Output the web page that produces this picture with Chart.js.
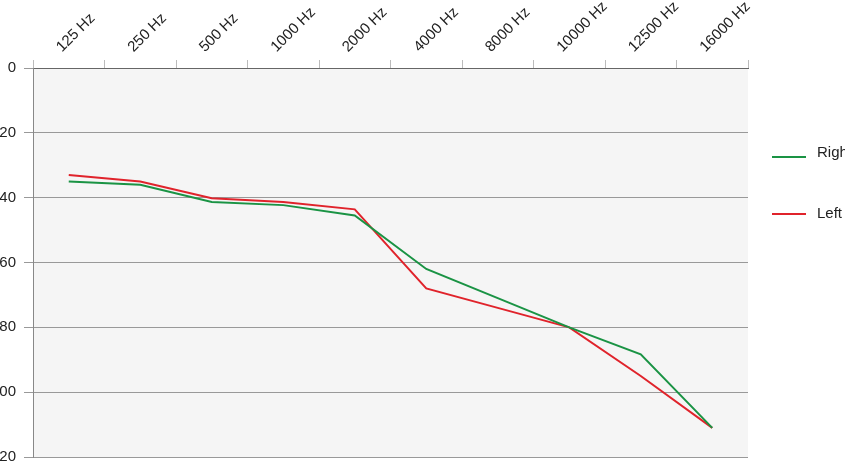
<!DOCTYPE html>
<html>
<head>
<meta charset="utf-8">
<script src="https://cdn.jsdelivr.net/npm/chart.js@4.4.0/dist/chart.umd.min.js"></script>
<style>
  html, body { margin: 0; padding: 0; background: #fff; overflow: hidden; }
  #wrap { position: relative; width: 845px; height: 462px; }
</style>
</head>
<body>
<div id="wrap"><canvas id="chart"></canvas></div>
<script>
const frequencies = ['125 Hz', '250 Hz', '500 Hz', '1000 Hz', '2000 Hz', '4000 Hz', '8000 Hz', '10000 Hz', '12500 Hz', '16000 Hz'];
const rightEar = [35, 36, 41.3, 42.3, 45.5, 62, 71, 80, 88.3, 111];
const leftEar = [33, 35, 40.2, 41.3, 43.6, 68, 74, 80, 95, 111];
const yTicks = [0, 20, 40, 60, 80, 100, 120];

const GREEN = '#1a9344';
const RED = '#e0232b';
const FONT = '"Liberation Sans", Arial, sans-serif';

// grey plot background + right-hand legend (clipped at canvas edge like the original)
const plotBits = {
  id: 'plotBits',
  beforeDraw(chart) {
    const { ctx, chartArea: a } = chart;
    ctx.save();
    ctx.fillStyle = '#f5f5f5';
    ctx.fillRect(a.left, a.top, a.right - a.left, a.bottom - a.top);
    ctx.restore();
  },
  afterDraw(chart) {
    const ctx = chart.ctx;
    const lineY = [157, 214];
    const textY = [153, 214];
    ctx.save();
    ctx.font = '15px ' + FONT;
    ctx.textBaseline = 'middle';
    chart.data.datasets.forEach((ds, i) => {
      ctx.strokeStyle = ds.borderColor;
      ctx.lineWidth = 2;
      ctx.beginPath();
      ctx.moveTo(772, lineY[i]);
      ctx.lineTo(806, lineY[i]);
      ctx.stroke();
      ctx.fillStyle = '#222';
      ctx.fillText(ds.label, 817, textY[i]);
    });
    ctx.restore();
  }
};

new Chart(document.getElementById('chart'), {
  type: 'line',
  data: {
    labels: frequencies,
    datasets: [
      { label: 'Right', data: rightEar, borderColor: GREEN, borderWidth: 2, pointRadius: 0, tension: 0, fill: false },
      { label: 'Left', data: leftEar, borderColor: RED, borderWidth: 2, pointRadius: 0, tension: 0, fill: false }
    ]
  },
  options: {
    responsive: true,
    maintainAspectRatio: false,
    animation: false,
    layout: { padding: { top: 0, right: 97, bottom: 5, left: 0 } },
    plugins: {
      legend: { display: false },
      tooltip: { enabled: false }
    },
    scales: {
      x: {
        type: 'category',
        position: 'top',
        offset: true,
        grid: { display: true, drawOnChartArea: false, drawTicks: true, tickLength: 8, offset: true, color: '#bbb' },
        border: { display: true, color: '#666', width: 1 },
        ticks: {
          autoSkip: false,
          minRotation: 45,
          maxRotation: 45,
          padding: 4,
          labelOffset: 3,
          color: '#222',
          font: { family: FONT, size: 15 }
        },
        afterFit(scale) {
          scale.height = 68;
          scale.paddingLeft = 0;
          scale.paddingRight = 0;
        }
      },
      y: {
        reverse: true,
        min: 0,
        max: 120,
        afterBuildTicks(scale) { scale.ticks = yTicks.map(v => ({ value: v })); },
        grid: { color: '#999', tickLength: 9 },
        border: { display: true, color: '#888' },
        ticks: {
          padding: 8,
          color: '#222',
          font: { family: FONT, size: 15 }
        },
        afterFit(scale) {
          scale.width = 33;
          scale.paddingTop = 0;
          scale.paddingBottom = 0;
        }
      }
    }
  },
  plugins: [plotBits]
});
</script>
</body>
</html>
